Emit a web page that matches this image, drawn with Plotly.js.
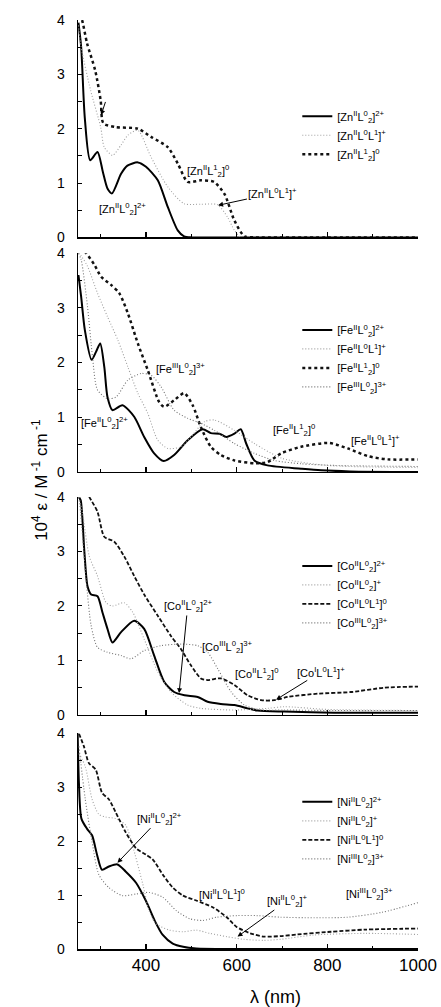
<!DOCTYPE html>
<html><head><meta charset="utf-8">
<script src="https://cdn.plot.ly/plotly-3.0.1.min.js"></script>
<style>html,body{margin:0;padding:0;background:#fff}#g{width:441px;height:1007px}</style>
</head><body><div id="g"></div>
<script>
// ---- Zn panel ----
const znA_x = [251,257,265,277,293,305,315,325,345,359,382,400,426,448,470,484,500,600,800,1000];
const znA_y = [3.95,3.5,2.2,1.42,1.57,1.2,0.9,0.81,1.17,1.32,1.38,1.3,1.05,0.56,0.13,0.02,0,0,0,0];
const znB_x = [251,257,278,300,308,326,345,360,382,411,448,484,521,558,580,595,609,650,800,1000];
const znB_y = [3.9,3.5,2.7,2.03,1.66,1.51,1.7,1.88,1.97,1.48,0.93,0.62,0.61,0.6,0.37,0.13,0.0,0,0,0];
const znC_x = [254,259,270,288,300,306,333,382,411,448,470,492,521,550,573,595,617,640,800,1000];
const znC_y = [4.1,4.0,3.57,3.07,2.52,2.1,2.03,2.0,1.85,1.66,1.36,1.02,1.05,1.02,0.80,0.31,0.02,0,0,0];
// ---- Fe panel ----
const feA_x = [251,257,265,280,290,299,308,315,326,348,374,396,418,439,462,492,525,543,562,577,595,609,621,639,668,742,786,850,1000];
const feA_y = [3.6,3.2,2.6,2.05,2.2,2.35,1.92,1.37,1.13,1.22,1.01,0.64,0.34,0.20,0.31,0.58,0.78,0.71,0.70,0.64,0.70,0.78,0.52,0.21,0.12,0.06,0.03,0.01,0.0];
const feB_x = [251,257,271,293,315,338,360,382,404,426,448,477,499,529,551,595,639,700,800,1000];
const feB_y = [4.0,3.95,3.76,3.27,2.84,2.41,1.92,1.44,1.07,0.58,0.43,0.46,0.64,0.92,0.95,0.76,0.52,0.25,0.12,0.08];
const feC_x = [255,268,286,301,323,341,360,382,404,429,440,462,484,503,521,543,565,595,639,668,698,742,804,845,889,933,1000];
const feC_y = [4.1,4.0,3.79,3.57,3.42,3.27,2.90,2.35,1.86,1.28,1.19,1.31,1.44,1.22,0.82,0.46,0.31,0.21,0.16,0.18,0.34,0.46,0.53,0.43,0.29,0.23,0.23];
const feD_x = [251,257,271,282,293,315,334,360,389,411,433,462,492,521,551,595,639,683,742,815,1000];
const feD_y = [4.0,3.88,3.02,2.1,1.5,1.34,1.37,1.68,1.80,1.77,1.56,1.13,0.98,0.89,0.76,0.52,0.34,0.21,0.15,0.12,0.10];
// ---- Co panel ----
const coA_x = [252,256,264,271,279,293,304,315,326,345,374,396,418,440,462,485,514,536,565,595,624,646,705,815,1000];
const coA_y = [4.0,3.94,3.0,2.36,2.21,2.18,1.88,1.58,1.33,1.52,1.73,1.58,1.09,0.61,0.42,0.36,0.33,0.24,0.20,0.18,0.12,0.08,0.06,0.04,0.04];
const coB_x = [252,260,275,293,312,326,352,371,396,426,455,492,521,595,668,705,800,1000];
const coB_y = [4.0,3.7,2.91,2.55,2.06,2.0,2.06,1.88,1.39,0.79,0.42,0.18,0.12,0.09,0.12,0.15,0.10,0.08];
const coC_x = [268,275,293,308,330,352,374,396,426,455,477,499,521,536,565,595,624,654,683,713,779,852,926,1000];
const coC_y = [4.1,4.0,3.73,3.27,3.18,2.91,2.55,2.21,1.82,1.45,1.21,0.91,0.67,0.64,0.67,0.55,0.36,0.27,0.27,0.33,0.39,0.42,0.50,0.52];
const coD_x = [252,256,268,279,293,315,345,367,396,433,477,514,536,558,588,617,654,705,815,1000];
const coD_y = [4.0,3.7,2.48,1.64,1.24,1.15,1.09,1.03,1.18,1.27,1.30,1.27,1.15,0.85,0.42,0.18,0.09,0.09,0.08,0.08];
// ---- Ni panel ----
const niA_x = [249,252,257.5,270,281,292,303,318,337,355,378,400,419,437,459,482,511,600,1000];
const niA_y = [4.1,3.09,2.42,2.23,2.11,1.75,1.47,1.53,1.57,1.44,1.23,0.89,0.53,0.26,0.10,0.04,0.01,0,0];
const niB_x = [252,266,281,296,311,333,355,370,393,407,422,452,482,511,541,578,615,660,697,771,883,1000];
const niB_y = [3.63,3.39,2.78,2.5,2.45,2.42,2.3,1.93,1.2,0.71,0.47,0.35,0.32,0.35,0.29,0.23,0.18,0.16,0.18,0.26,0.29,0.27];
const niC_x = [252,263,274,289,303,318,333,355,378,400,415,437,459,482,511,548,578,600,630,660,697,734,808,883,1000];
const niC_y = [4.0,3.76,3.45,3.33,2.90,2.78,2.54,2.17,1.87,1.75,1.66,1.38,1.14,0.99,0.90,0.77,0.59,0.41,0.29,0.23,0.24,0.27,0.32,0.36,0.38];
const niD_x = [252,266,281,296,318,348,378,407,437,467,497,526,556,600,645,697,771,845,920,1000];
const niD_y = [3.76,2.78,1.99,1.38,1.14,0.99,1.02,1.05,0.96,0.71,0.56,0.53,0.59,0.62,0.62,0.59,0.58,0.59,0.68,0.86];

const names = {
  znA:'[Zn<sup>II</sup>L<sup>0</sup><sub>2</sub>]<sup>2+</sup>',
  znB:'[Zn<sup>II</sup>L<sup>0</sup>L<sup>1</sup>]<sup>+</sup>',
  znC:'[Zn<sup>II</sup>L<sup>1</sup><sub>2</sub>]<sup>0</sup>',
  feA:'[Fe<sup>II</sup>L<sup>0</sup><sub>2</sub>]<sup>2+</sup>',
  feB:'[Fe<sup>II</sup>L<sup>0</sup>L<sup>1</sup>]<sup>+</sup>',
  feC:'[Fe<sup>II</sup>L<sup>1</sup><sub>2</sub>]<sup>0</sup>',
  feD:'[Fe<sup>III</sup>L<sup>0</sup><sub>2</sub>]<sup>3+</sup>',
  coA:'[Co<sup>II</sup>L<sup>0</sup><sub>2</sub>]<sup>2+</sup>',
  coB:'[Co<sup>II</sup>L<sup>0</sup><sub>2</sub>]<sup>+</sup>',
  coC:'[Co<sup>II</sup>L<sup>0</sup>L<sup>1</sup>]<sup>0</sup>',
  coD:'[Co<sup>III</sup>L<sup>0</sup><sub>2</sub>]<sup>3+</sup>',
  niA:'[Ni<sup>II</sup>L<sup>0</sup><sub>2</sub>]<sup>2+</sup>',
  niB:'[Ni<sup>II</sup>L<sup>0</sup><sub>2</sub>]<sup>+</sup>',
  niC:'[Ni<sup>II</sup>L<sup>0</sup>L<sup>1</sup>]<sup>0</sup>',
  niD:'[Ni<sup>III</sup>L<sup>0</sup><sub>2</sub>]<sup>3+</sup>'
};

const ST = {
  solid:{color:'#000', width:2},
  light:{color:'#a0a0a0', width:1.1, dash:'1px,2px'},
  bold:{color:'#111', width:2.5, dash:'3px,3px'},
  dash:{color:'#111', width:1.8, dash:'4px,2px'},
  fine:{color:'#707070', width:1.1, dash:'1px,2px'}
};

function tr(x, y, name, st, k){
  const s = k===1 ? '' : String(k);
  return {x:x, y:y, name:name, type:'scatter', mode:'lines',
    line:Object.assign({shape:'spline', smoothing:0.7}, st),
    xaxis:'x'+s, yaxis:'y'+s, legend:'legend'+s, hoverinfo:'skip'};
}

const data = [
  tr(znA_x, znA_y, names.znA, ST.solid, 1),
  tr(znB_x, znB_y, names.znB, ST.light, 1),
  tr(znC_x, znC_y, names.znC, ST.bold, 1),
  tr(feA_x, feA_y, names.feA, ST.solid, 2),
  tr(feB_x, feB_y, names.feB, ST.light, 2),
  tr(feC_x, feC_y, names.feC, ST.bold, 2),
  tr(feD_x, feD_y, names.feD, ST.fine, 2),
  tr(coA_x, coA_y, names.coA, ST.solid, 3),
  tr(coB_x, coB_y, names.coB, ST.light, 3),
  tr(coC_x, coC_y, names.coC, ST.dash, 3),
  tr(coD_x, coD_y, names.coD, ST.fine, 3),
  tr(niA_x, niA_y, names.niA, ST.solid, 4),
  tr(niB_x, niB_y, names.niB, ST.light, 4),
  tr(niC_x, niC_y, names.niC, ST.dash, 4),
  tr(niD_x, niD_y, names.niD, ST.fine, 4)
];

const FONT = 'Liberation Sans, Arial, sans-serif';
const domains = [[0.766,1.0],[0.5135,0.749],[0.252,0.4865],[0,0.232]];
const legendTop = [0.912, 0.682, 0.428, 0.174];

const layout = {
  width:441, height:1007,
  margin:{l:78, r:23, t:20, b:58},
  paper_bgcolor:'#fff', plot_bgcolor:'#fff',
  font:{family:FONT, size:12, color:'#000'},
  showlegend:true,
  annotations:[]
};

for (let k=1;k<=4;k++){
  const s = k===1 ? '' : String(k);
  layout['xaxis'+s] = {
    domain:[0,1], anchor:'y'+s, range:[250,1000],
    showline:true, linecolor:'#000', linewidth:1.5, mirror:false,
    showgrid:false, zeroline:false,
    ticks:'inside', ticklen:5, tickwidth:1.2, tickcolor:'#000',
    tickvals:[400,600,800,1000], ticktext:['400','600','800','1000'],
    showticklabels:k===4, tickfont:{size:17, family:FONT},
    minor:{ticks:'inside', ticklen:3, tickwidth:1, tickcolor:'#000', tick0:0, dtick:100, showgrid:false}
  };
  layout['yaxis'+s] = {
    domain:domains[k-1], anchor:'x'+s, range:[0,4],
    showline:true, linecolor:'#000', linewidth:1.5,
    showgrid:false, zeroline:false,
    ticks:'inside', ticklen:4, tickwidth:1, tickcolor:'#000',
    tickvals:[0,1,2,3,4], tickfont:{size:14, family:FONT},
    ticklabelstandoff:9,
    minor:{ticks:'inside', ticklen:4, tickwidth:1, tickcolor:'#000', tick0:0, dtick:0.5, showgrid:false}
  };
  layout['legend'+s] = {
    x:0.645, y:legendTop[k-1], xanchor:'left', yanchor:'top',
    bgcolor:'rgba(0,0,0,0)', borderwidth:0,
    font:{size:11, family:FONT}, tracegroupgap:0
  };
}

function lab(k, x, y, text){
  const s = k===1 ? '' : String(k);
  layout.annotations.push({xref:'x'+s, yref:'y'+s, x:x, y:y, text:text, showarrow:false,
    font:{size:11, family:FONT}});
}
function arr(k, tx, ty, x, y, text){
  const s = k===1 ? '' : String(k);
  layout.annotations.push({xref:'x'+s, yref:'y'+s, x:x, y:y, axref:'x'+s, ayref:'y'+s, ax:tx, ay:ty,
    text:text, showarrow:true, arrowhead:2, arrowsize:1, arrowwidth:1, arrowcolor:'#000',
    font:{size:11, family:FONT}});
}

lab(1, 537, 1.23, names.znC);
lab(1, 349, 0.53, names.znA);
arr(1, 680, 0.81, 559, 0.59, names.znB);
arr(1, 316, 2.63, 301, 2.25, ' ');

lab(2, 477, 1.89, names.feD);
lab(2, 308, 0.89, names.feA);
lab(2, 727, 0.76, names.feC);
lab(2, 907, 0.58, names.feB);

arr(3, 492, 2.0, 473, 0.40, names.coA);
lab(3, 580, 1.24, names.coD);
lab(3, 643, 0.76, '[Co<sup>II</sup>L<sup>1</sup><sub>2</sub>]<sup>0</sup>');
arr(3, 786, 0.79, 687, 0.28, '[Co<sup>I</sup>L<sup>0</sup>L<sup>1</sup>]<sup>+</sup>');

arr(4, 430, 2.42, 337, 1.6, names.niA);
lab(4, 567, 1.02, names.niC);
arr(4, 712, 0.9, 602, 0.23, names.niB);
lab(4, 894, 1.02, names.niD);

// axis titles
layout.annotations.push({xref:'paper', yref:'paper', x:-0.15, y:0.505, textangle:-90,
  text:'10<sup>4</sup> ε / M<sup> -1</sup> cm<sup> -1</sup>', showarrow:false, font:{size:17, family:FONT}});
layout.annotations.push({xref:'paper', yref:'paper', x:0.58, y:-0.052, yanchor:'middle',
  text:'λ (nm)', showarrow:false, font:{size:18, family:FONT}});

Plotly.newPlot('g', data, layout, {staticPlot:true, displayModeBar:false});
</script></body></html>
